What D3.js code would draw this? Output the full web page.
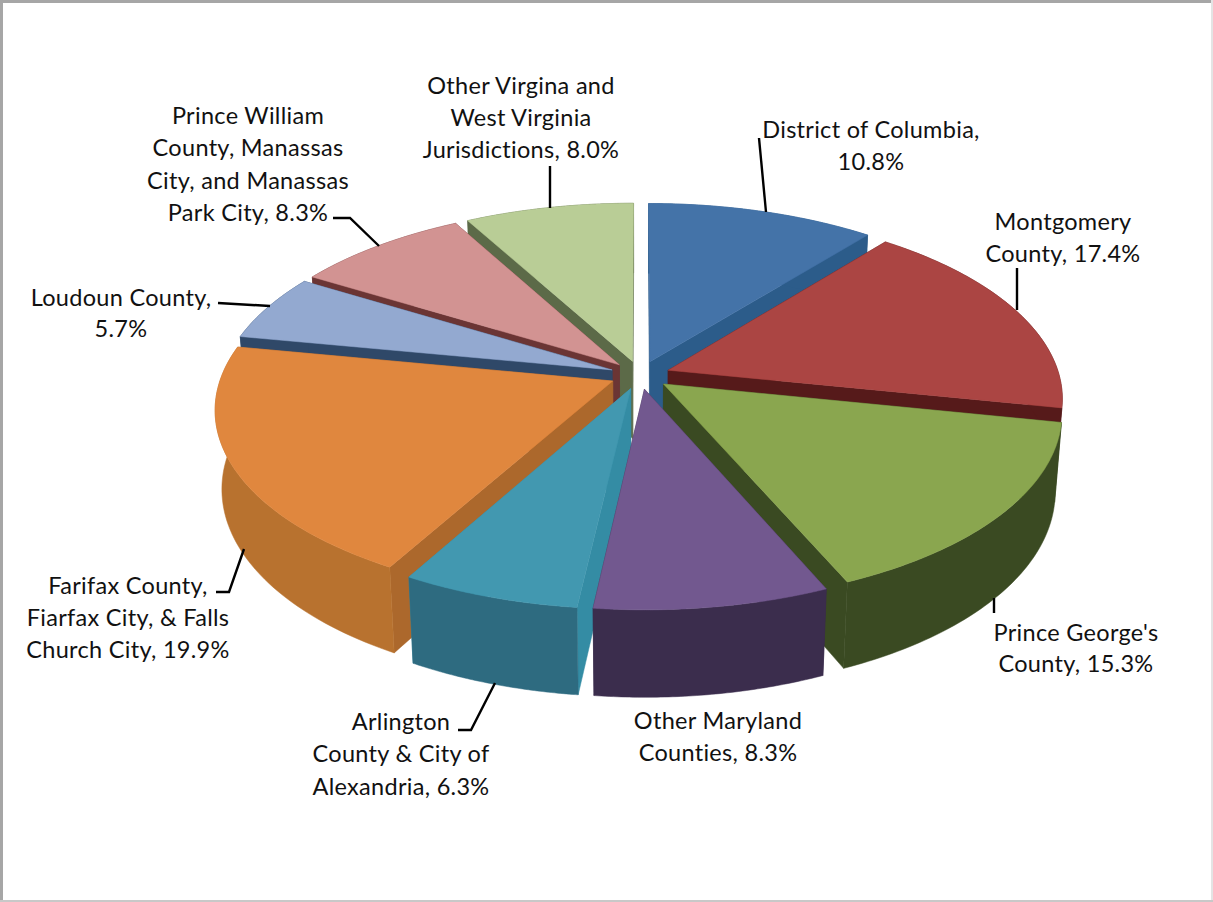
<!DOCTYPE html>
<html><head><meta charset="utf-8">
<script src="https://cdn.jsdelivr.net/npm/d3@7/dist/d3.min.js"></script>
<style>html,body{margin:0;padding:0;background:#fff;overflow:hidden}svg{display:block}text{font-family:Lato,"Open Sans",sans-serif;font-size:23.5px;letter-spacing:.3px;fill:#111;text-anchor:middle;dominant-baseline:middle}</style>
</head><body><div id="c"></div>
<script>
const categories=["District of Columbia","Montgomery County","Prince George's County","Other Maryland Counties","Arlington County & City of Alexandria","Fairfax County, Fairfax City, & Falls Church City","Loudoun County","Prince William County, Manassas City, and Manassas Park City","Other Virginia and West Virginia Jurisdictions"];
const values=[10.8,17.4,15.3,8.3,6.3,19.9,5.7,8.3,8.0];
const topColors=["#4473a8","#ab4543","#8aa64f","#72588f","#4298b0","#e0873e","#93a9d0","#d29392","#b9cd96"];
const wallColors=["#2c5c8a","#561a1a","#3a4a22","#3b2d4d","#348ca4","#ac682c","#2f4868","#6b3534","#5c6a48"];
const outerColors=["#2c5c8a","#561a1a","#3a4a22","#3b2d4d","#2e6b80","#b8722f","#2f4868","#6b3534","#5c6a48"];
const labelLines=[["District of Columbia,","10.8%"],["Montgomery","County, 17.4%"],["Prince George's","County, 15.3%"],["Other Maryland","Counties, 8.3%"],["Arlington","County & City of","Alexandria, 6.3%"],["Farifax County,","Fiarfax City, & Falls","Church City, 19.9%"],["Loudoun County,","5.7%"],["Prince William","County, Manassas","City, and Manassas","Park City, 8.3%"],["Other Virgina and","West Virginia","Jurisdictions, 8.0%"]];
const labelAnchors=[[871,132],[1063,224],[1076,635],[718,723],[401,724],[128,588],[121,300],[248,118],[521,88]];
const leaders=[[[759,138],[766,212]],[[1017,268],[1017,310]],[[994,598],[994,613]],[],[[495,683],[471,730],[458,730]],[[244,549],[229,592],[216,592]],[[218,303],[270,306]],[[333,218],[350,218],[379,246]],[[550,166],[550,208]]];
const W=1213,H=902,cx=640,cy=375,R=391,explode=30,tilt=0.472,D=2722,Dh=5000,depth=79;
const svg=d3.select("#c").append("svg").attr("width",W).attr("height",H);
svg.append("rect").attr("width",W).attr("height",H).attr("fill","#fff");
svg.append("path").attr("d","M1.5 902V1.5H1213").attr("fill","none").attr("stroke","#a6a6a6").attr("stroke-width",3);
svg.append("path").attr("d","M1212 0V902").attr("fill","none").attr("stroke","#e4e4e4").attr("stroke-width",2);
svg.append("path").attr("d","M0 901H1213").attr("fill","none").attr("stroke","#c8c8c8").attr("stroke-width",2);
const project=(u,v,h)=>{const s=1/(1-v/D+h/Dh);return [cx+u*s,cy+(v*tilt+h)*s];};
const arcs=d3.pie().sort(null).value(d=>d)(values);
const slices=arcs.map((a,i)=>{
  const mid=(a.startAngle+a.endAngle)/2;
  return {a,i,mid,ox:Math.sin(mid)*explode,oy:-Math.cos(mid)*explode};
});
function pt(s,t,r,h){return project(s.ox+Math.sin(t)*r,s.oy-Math.cos(t)*r,h);}
const line=d3.line();
function facePath(s,h0,h1,t0,t1){
  const angles=d3.range(0,61).map(k=>t0+(t1-t0)*k/60);
  const a=angles.map(t=>pt(s,t,R,h0)),b=angles.slice().reverse().map(t=>pt(s,t,R,h1));
  return line(a.concat(b))+"Z";
}
function cutPath(s,t){return line([pt(s,0,0,0),pt(s,t,R,0),pt(s,t,R,depth),pt(s,0,0,depth)])+"Z";}
function topPath(s){
  const angles=d3.range(0,121).map(k=>s.a.startAngle+(s.a.endAngle-s.a.startAngle)*k/120);
  return line([pt(s,0,0,0)].concat(angles.map(t=>pt(s,t,R,0))))+"Z";
}
const g=svg.append("g");
slices.slice().sort((p,q)=>(p.oy)-(q.oy)).forEach(s=>{
  const gs=g.append("g");
  const color=wallColors[s.i];
  const cuts=[s.a.startAngle,s.a.endAngle].sort((x,y)=>Math.cos(y)-Math.cos(x));
  cuts.forEach(t=>gs.append("path").attr("d",cutPath(s,t)).attr("fill",color).attr("stroke",color).attr("stroke-width",.5));
  gs.append("path").attr("d",facePath(s,0,depth,s.a.startAngle,s.a.endAngle)).attr("fill",outerColors[s.i]).attr("stroke",outerColors[s.i]).attr("stroke-width",.5);
  gs.append("path").attr("d",topPath(s)).attr("fill",topColors[s.i]).attr("stroke",topColors[s.i]).attr("stroke-width",.5);
});
leaders.forEach(p=>{if(p.length)svg.append("path").attr("d",line(p)).attr("fill","none").attr("stroke","#000").attr("stroke-width",2.4);});
const lh=[32,32,31,32,32.5,32,31,32.3,32];
labelLines.forEach((ls,i)=>{
  ls.forEach((t,k)=>svg.append("text").attr("x",labelAnchors[i][0]).attr("y",labelAnchors[i][1]+k*lh[i]).text(t));
});
</script></body></html>
